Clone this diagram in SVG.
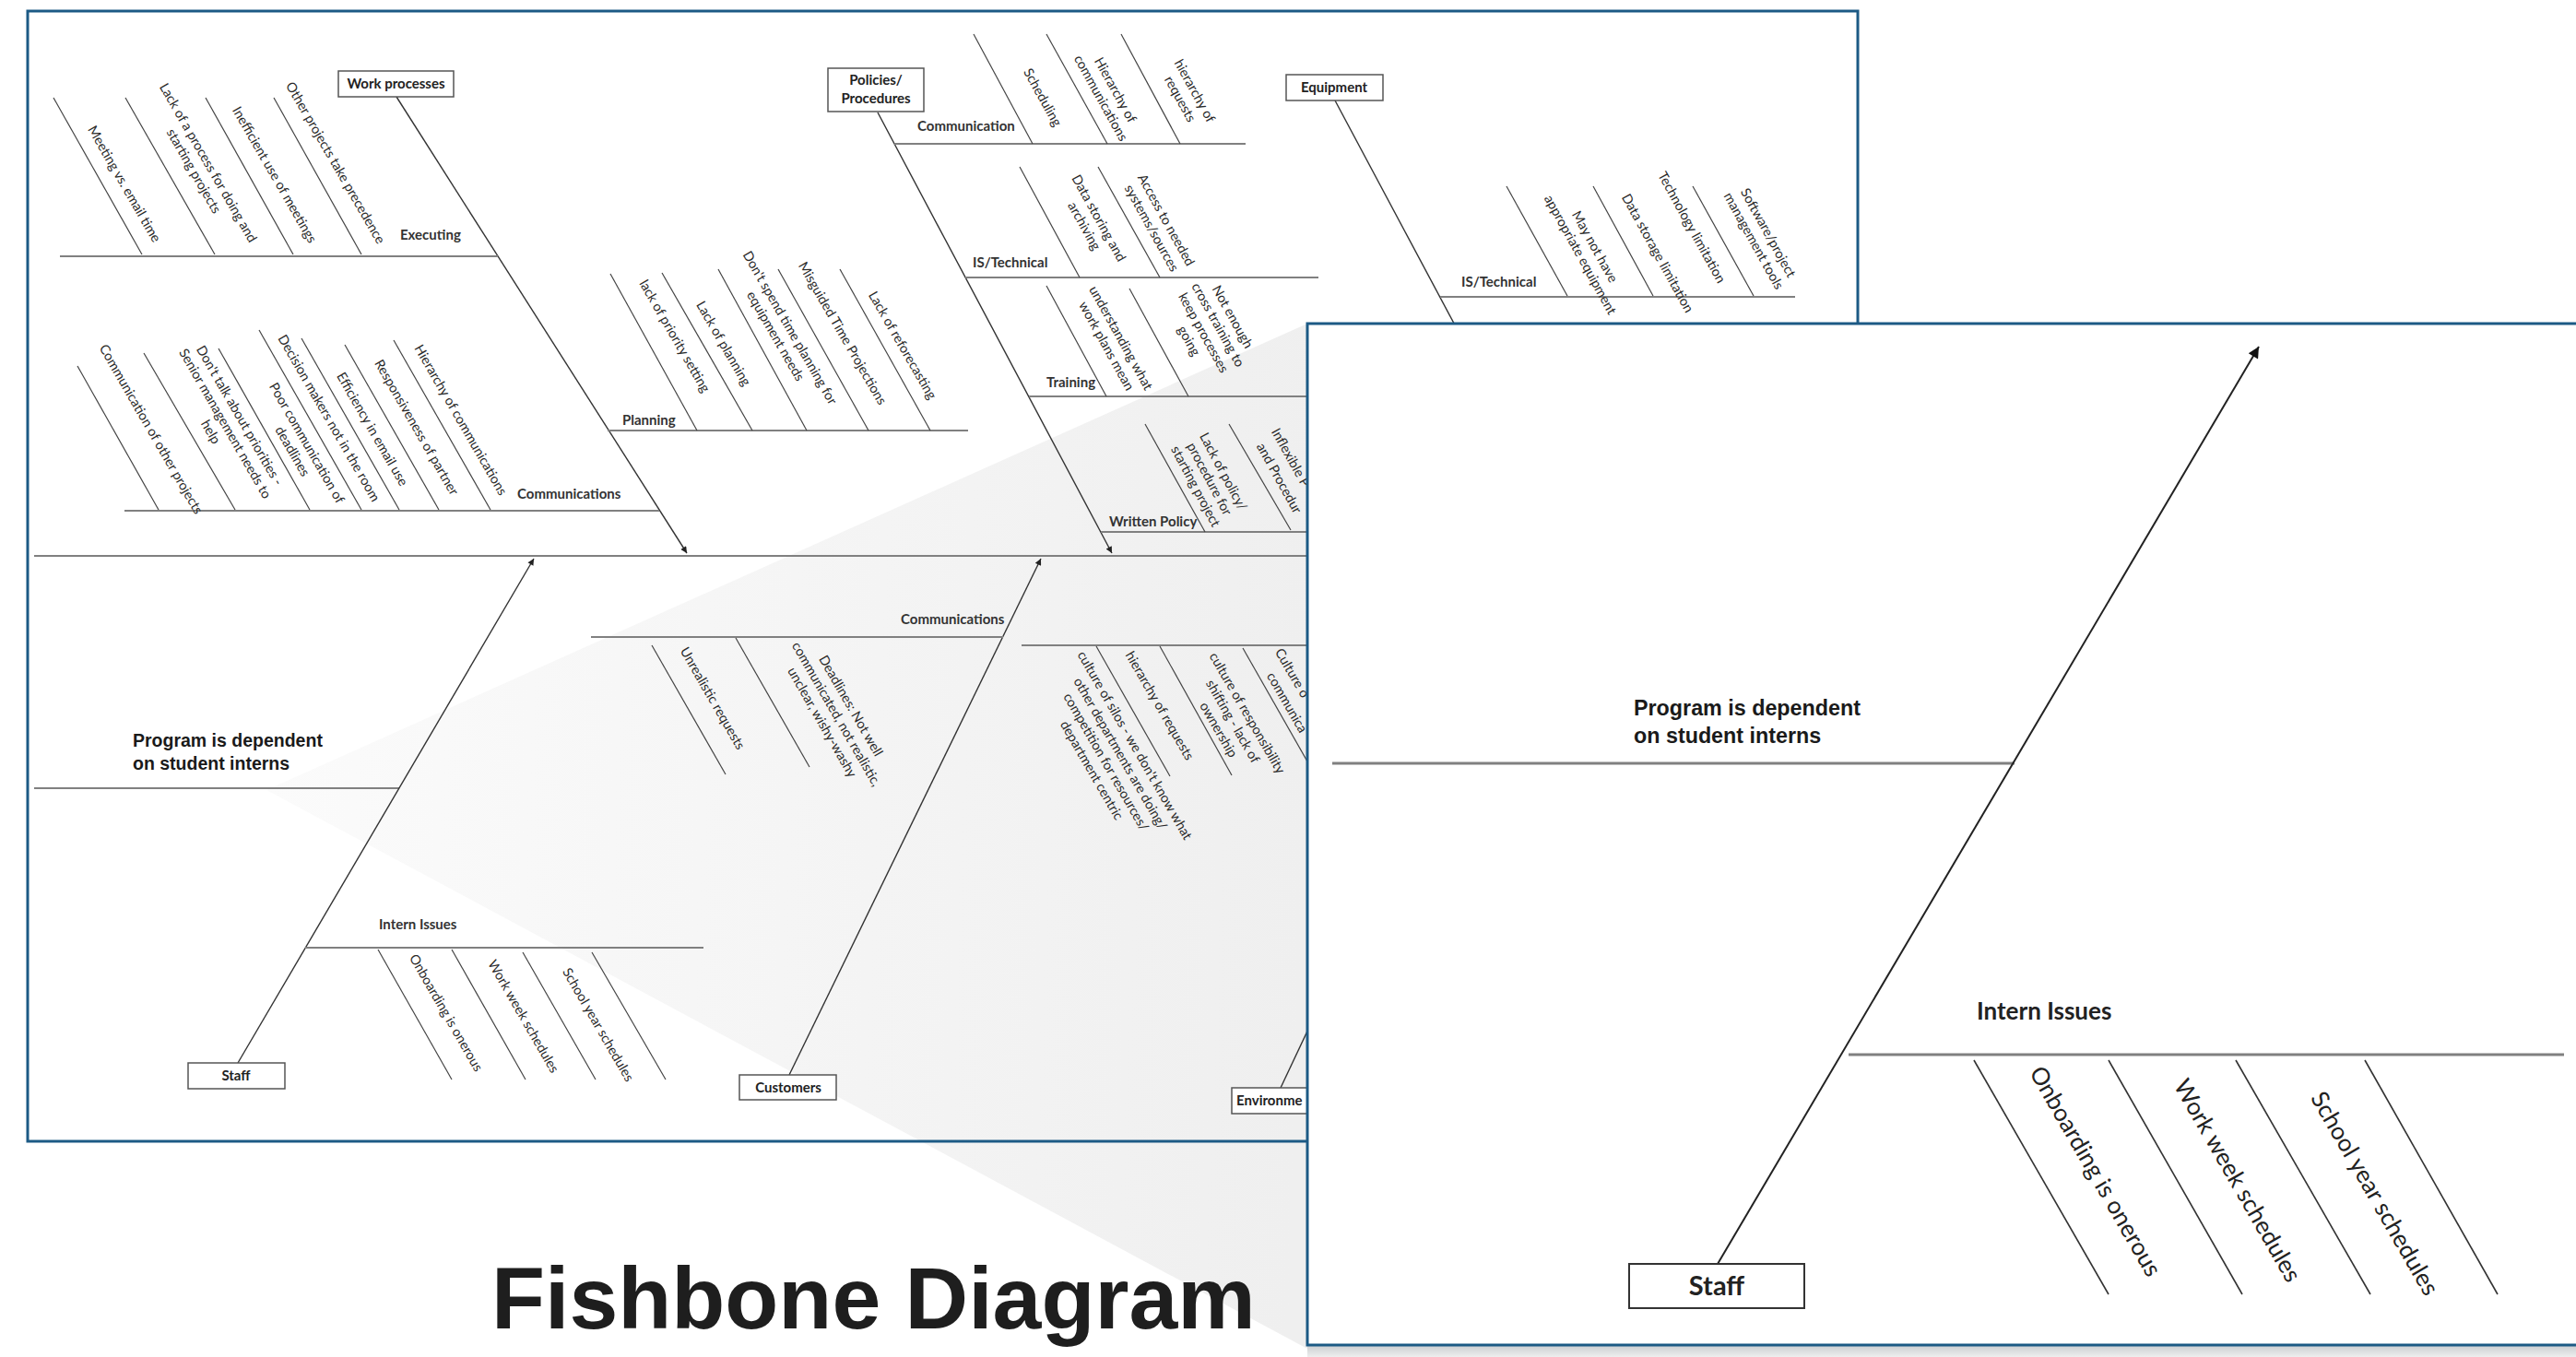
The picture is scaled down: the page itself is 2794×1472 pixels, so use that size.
<svg xmlns="http://www.w3.org/2000/svg" width="2794" height="1472" viewBox="0 0 2794 1472">
<defs>
<style>
.panel{fill:#fff;stroke:#1c5a85;stroke-width:3}
.bone{stroke:#333;stroke-width:1.4;fill:none}
.rib{stroke:#808080;stroke-width:2;fill:none}
.sub{stroke:#444;stroke-width:1.2;fill:none}
.t{font-family:Lato,"Liberation Sans",sans-serif;font-size:14.5px;fill:#2a2a2a;text-anchor:middle}
.ts{font-family:Lato,"Liberation Sans",sans-serif;font-size:14.5px;fill:#2a2a2a;text-anchor:start}
.lbl{font-family:Lato,"Liberation Sans",sans-serif;font-size:15px;font-weight:700;fill:#333}
.box{fill:#fff;stroke:#555;stroke-width:1.5}
.boxt{font-family:Lato,"Liberation Sans",sans-serif;font-size:15px;font-weight:700;fill:#222;text-anchor:middle}
.boxs{font-family:Lato,"Liberation Sans",sans-serif;font-size:15px;font-weight:700;fill:#222;text-anchor:start}
.fbone{stroke:#222;stroke-width:2;fill:none}
.frib{stroke:#808080;stroke-width:3;fill:none}
.fsub{stroke:#333;stroke-width:1.6;fill:none}
.ft{font-family:Lato,"Liberation Sans",sans-serif;font-size:26px;fill:#222;text-anchor:middle}
.prog{font-family:"Liberation Sans",Arial,sans-serif;font-weight:700;fill:#1a1a1a}
</style>
<marker id="ah" viewBox="0 0 10 10" refX="10" refY="5" markerWidth="9" markerHeight="7" markerUnits="userSpaceOnUse" orient="auto"><path d="M0,0 L10,5 L0,10 z" fill="#222"/></marker>
<marker id="ahF" viewBox="0 0 10 10" refX="10" refY="5" markerWidth="18" markerHeight="12" markerUnits="userSpaceOnUse" orient="auto"><path d="M0,0 L10,5 L0,10 z" fill="#111"/></marker>
<linearGradient id="wedge" gradientUnits="userSpaceOnUse" x1="289" y1="857" x2="1418" y2="900"><stop offset="0" stop-color="#fbfbfb"/><stop offset="1" stop-color="#efefef"/></linearGradient>
<linearGradient id="shadow" x1="0" y1="0" x2="0" y2="1"><stop offset="0" stop-color="#c9cdd0"/><stop offset="1" stop-color="#eeeeee"/></linearGradient>
<clipPath id="backclip"><polygon points="31,13 2014,13 2014,350 1417,350 1417,1237 31,1237"/></clipPath>
</defs>
<rect x="0" y="0" width="2794" height="1472" fill="#fff"/>

<!-- back panel -->
<rect id="back-panel-fill" x="30" y="12" width="1985" height="1226" fill="#fff"/>
<polygon id="zoom-wedge" points="289,857 1418,351 1418,1463" fill="url(#wedge)"/>

<g clip-path="url(#backclip)">
<g id="back-connectors">
  <path class="rib" d="M37,603 H2015"/>
  <path class="rib" d="M37,855 H433"/>
  <path class="bone" d="M430,105 L745,600" marker-end="url(#ah)"/>
  <path class="bone" d="M952,122 L1206,600" marker-end="url(#ah)"/>
  <path class="bone" d="M1448,109 L1710,600"/>
  <path class="bone" d="M258,1153 L579,606" marker-end="url(#ah)"/>
  <path class="bone" d="M856,1166 L1129,606" marker-end="url(#ah)"/>
  <path class="bone" d="M1389,1180 L1660,606"/>
  <path class="rib" d="M65,278 H540"/>
  <path class="rib" d="M135,554 H715"/>
  <path class="rib" d="M659,467 H1050"/>
  <path class="rib" d="M970,156 H1351"/>
  <path class="rib" d="M1047,301 H1430"/>
  <path class="rib" d="M1116,430 H1430"/>
  <path class="rib" d="M1194,577 H1430"/>
  <path class="rib" d="M1562,322 H1947"/>
  <path class="rib" d="M331,1028 H763"/>
  <path class="rib" d="M641,691 H1088"/>
  <path class="rib" d="M1108,700 H1430"/>
  <g class="sub">
    <path d="M58,106 L154,276"/><path d="M136,106 L233,276"/><path d="M223,106 L318,276"/><path d="M297,106 L392,276"/>
    <path d="M84,397 L172,553"/><path d="M156,383 L255,553"/><path d="M237,378 L336,553"/><path d="M281,358 L392,553"/><path d="M327,367 L433,553"/><path d="M374,374 L476,553"/><path d="M427,369 L532,553"/>
    <path d="M662,297 L756,467"/><path d="M718,296 L816,467"/><path d="M779,292 L875,467"/><path d="M844,292 L942,467"/><path d="M911,292 L1009,467"/>
    <path d="M1056,37 L1120,156"/><path d="M1135,37 L1201,156"/><path d="M1216,37 L1280,156"/>
    <path d="M1106,181 L1171,301"/><path d="M1191,181 L1258,301"/>
    <path d="M1135,310 L1200,430"/><path d="M1225,313 L1289,430"/>
    <path d="M1242,460 L1307,577"/><path d="M1333,460 L1400,575"/>
    <path d="M1634,202 L1700,321"/><path d="M1728,202 L1793,321"/><path d="M1836,202 L1902,321"/>
    <path d="M707,700 L787,840"/><path d="M798,692 L878,832"/>
    <path d="M1189,701 L1269,842"/><path d="M1258,701 L1336,841"/><path d="M1348,703 L1430,847"/>
    <path d="M410,1030 L490,1171"/><path d="M490,1030 L570,1171"/><path d="M567,1033 L646,1171"/><path d="M642,1033 L722,1171"/>
  </g>
</g>

<g id="node-work-processes">
  <rect class="box" x="367" y="77" width="125" height="28"/>
  <text class="boxt" x="429.5" y="96">Work processes</text>
</g>
<g id="node-policies">
  <rect class="box" x="898" y="74" width="104" height="47"/>
  <text class="boxt" x="950" y="92">Policies/</text>
  <text class="boxt" x="950" y="112">Procedures</text>
</g>
<g id="node-equipment">
  <rect class="box" x="1395" y="81" width="105" height="28"/>
  <text class="boxt" x="1447" y="100">Equipment</text>
</g>
<g id="node-staff-back">
  <rect class="box" x="204" y="1153" width="105" height="28"/>
  <text class="boxt" x="256" y="1172">Staff</text>
</g>
<g id="node-customers">
  <rect class="box" x="802" y="1166" width="105" height="27"/>
  <text class="boxt" x="855" y="1185">Customers</text>
</g>
<g id="node-environment">
  <rect class="box" x="1336" y="1180" width="120" height="28"/>
  <text class="boxs" x="1341" y="1199">Environme</text>
</g>

<g id="branch-labels">
  <text class="lbl" x="434" y="260">Executing</text>
  <text class="lbl" x="561" y="541">Communications</text>
  <text class="lbl" x="675" y="461">Planning</text>
  <text class="lbl" x="995" y="142">Communication</text>
  <text class="lbl" x="1055" y="290">IS/Technical</text>
  <text class="lbl" x="1135" y="420">Training</text>
  <text class="lbl" x="1203" y="571">Written Policy</text>
  <text class="lbl" x="1585" y="311">IS/Technical</text>
  <text class="lbl" x="977" y="677">Communications</text>
  <text class="lbl" x="411" y="1008">Intern Issues</text>
</g>

<g id="cause-texts">
  <text class="t" transform="translate(134 200) rotate(60)"><tspan x="0" y="4">Meeting vs. email time</tspan></text>
  <text class="t" transform="translate(225 177) rotate(60)"><tspan x="0" y="4">Lack of a process for doing and</tspan><tspan x="0" dy="18">starting projects</tspan></text>
  <text class="t" transform="translate(297 190) rotate(60)"><tspan x="0" y="4">Inefficient use of meetings</tspan></text>
  <text class="t" transform="translate(363 177) rotate(60)"><tspan x="0" y="4">Other projects take precedence</tspan></text>

  <text class="t" transform="translate(163 466) rotate(60)"><tspan x="0" y="4">Communication of other projects</tspan></text>
  <text class="t" transform="translate(259 451) rotate(60)"><tspan x="0" y="4">Don't talk about priorities -</tspan><tspan x="0" dy="18">Senior management needs to</tspan><tspan x="0" dy="18">help</tspan></text>
  <text class="t" transform="translate(332 481) rotate(60)"><tspan x="0" y="4">Poor communication of</tspan><tspan x="0" dy="18">deadlines</tspan></text>
  <text class="t" transform="translate(356 454) rotate(60)"><tspan x="0" y="4">Decision makers not in the room</tspan></text>
  <text class="t" transform="translate(403 466) rotate(60)"><tspan x="0" y="4">Efficiency in email use</tspan></text>
  <text class="t" transform="translate(451 464) rotate(60)"><tspan x="0" y="4">Responsiveness of partner</tspan></text>
  <text class="t" transform="translate(499 456) rotate(60)"><tspan x="0" y="4">Hierarchy of communications</tspan></text>

  <text class="t" transform="translate(731 365) rotate(60)"><tspan x="0" y="4">lack of priority setting</tspan></text>
  <text class="t" transform="translate(784 373) rotate(60)"><tspan x="0" y="4">Lack of planning</tspan></text>
  <text class="t" transform="translate(856 356) rotate(60)"><tspan x="0" y="4">Don't spend time planning for</tspan><tspan x="0" dy="18">equipment needs</tspan></text>
  <text class="t" transform="translate(913 362) rotate(60)"><tspan x="0" y="4">Misguided Time Projections</tspan></text>
  <text class="t" transform="translate(978 375) rotate(60)"><tspan x="0" y="4">Lack of reforecasting</tspan></text>

  <text class="t" transform="translate(1130 106) rotate(61)"><tspan x="0" y="4">Scheduling</tspan></text>
  <text class="t" transform="translate(1209 98) rotate(61)"><tspan x="0" y="4">Hierarchy of</tspan><tspan x="0" dy="18">communications</tspan></text>
  <text class="t" transform="translate(1295 99) rotate(61)"><tspan x="0" y="4">hierarchy of</tspan><tspan x="0" dy="18">requests</tspan></text>

  <text class="t" transform="translate(1191 237) rotate(61)"><tspan x="0" y="4">Data storing and</tspan><tspan x="0" dy="18">archiving</tspan></text>
  <text class="t" transform="translate(1264 239) rotate(61)"><tspan x="0" y="4">Access to needed</tspan><tspan x="0" dy="18">systems/sources</tspan></text>

  <text class="t" transform="translate(1215 367) rotate(61)"><tspan x="0" y="4">understanding what</tspan><tspan x="0" dy="18">work plans mean</tspan></text>
  <text class="t" transform="translate(1336 344) rotate(61)"><tspan x="0" y="4">Not enough</tspan><tspan x="0" dy="18">cross training to</tspan><tspan x="0" dy="18">keep processes</tspan><tspan x="0" dy="18">going</tspan></text>

  <text class="t" transform="translate(1326 512) rotate(62)"><tspan x="0" y="4">Lack of policy/</tspan><tspan x="0" dy="17">procedure for</tspan><tspan x="0" dy="17">starting project</tspan></text>
  <text class="ts" transform="translate(1382 466) rotate(61)"><tspan x="0" y="4">Inflexible P</tspan></text>
  <text class="ts" transform="translate(1366 482) rotate(61)"><tspan x="0" y="4">and Procedur</tspan></text>

  <text class="t" transform="translate(1729 268) rotate(61)"><tspan x="0" y="4">May not have</tspan><tspan x="0" dy="18">appropriate equipment</tspan></text>
  <text class="t" transform="translate(1797 275) rotate(61)"><tspan x="0" y="4">Data storage limitation</tspan></text>
  <text class="t" transform="translate(1834 247) rotate(61)"><tspan x="0" y="4">Technology limitation</tspan></text>
  <text class="t" transform="translate(1917 253) rotate(61)"><tspan x="0" y="4">Software/project</tspan><tspan x="0" dy="18">management tools</tspan></text>

  <text class="t" transform="translate(772 758) rotate(60)"><tspan x="0" y="4">Unrealistic requests</tspan></text>
  <text class="t" transform="translate(922 766) rotate(60)"><tspan x="0" y="4">Deadlines: Not well</tspan><tspan x="0" dy="18">communicated, not realistic,</tspan><tspan x="0" dy="18">unclear, wishy-washy</tspan></text>

  <text class="t" transform="translate(1230 809) rotate(60)"><tspan x="0" y="4">culture of silos - we don't know what</tspan><tspan x="0" dy="18">other departments are doing/</tspan><tspan x="0" dy="18">competition for resources/</tspan><tspan x="0" dy="18">department centric</tspan></text>
  <text class="t" transform="translate(1257 766) rotate(60)"><tspan x="0" y="4">hierarchy of requests</tspan></text>
  <text class="t" transform="translate(1352 774) rotate(60)"><tspan x="0" y="4">culture of responsibility</tspan><tspan x="0" dy="18">shifting - lack of</tspan><tspan x="0" dy="18">ownership</tspan></text>
  <text class="ts" transform="translate(1386 705) rotate(60)"><tspan x="0" y="4">Culture o</tspan></text>
  <text class="ts" transform="translate(1377 731) rotate(60)"><tspan x="0" y="4">communica</tspan></text>

  <text class="t" transform="translate(483 1099) rotate(60)"><tspan x="0" y="4">Onboarding is onerous</tspan></text>
  <text class="t" transform="translate(567 1103) rotate(60)"><tspan x="0" y="4">Work week schedules</tspan></text>
  <text class="t" transform="translate(648 1112) rotate(60)"><tspan x="0" y="4">School year schedules</tspan></text>
</g>

<g id="problem-back">
  <text class="prog" font-size="19.5" x="144" y="810">Program is dependent</text>
  <text class="prog" font-size="19.5" x="144" y="835">on student interns</text>
</g>
</g>
<rect id="back-panel" x="30" y="12" width="1985" height="1226" fill="none" stroke="#1c5a85" stroke-width="3"/>

<!-- title -->
<g id="title">
  <text x="533" y="1441" font-family="'Liberation Sans',Arial,sans-serif" font-weight="700" font-size="95" fill="#1e1e1e">Fishbone Diagram</text>
</g>

<!-- front panel -->
<rect id="front-shadow" x="1418" y="1459" width="1376" height="13" fill="url(#shadow)"/>
<rect id="front-panel" class="panel" x="1418" y="351" width="1400" height="1108"/>

<g id="front-connectors">
  <path class="frib" d="M1445,828 H2185"/>
  <path class="frib" d="M2005,1144 H2781"/>
  <path class="fbone" d="M1863,1371 L2450,376" marker-end="url(#ahF)"/>
  <g class="fsub">
    <path d="M2141,1150 L2287,1404"/>
    <path d="M2287,1150 L2432,1404"/>
    <path d="M2425,1150 L2571,1404"/>
    <path d="M2565,1150 L2709,1404"/>
  </g>
</g>

<g id="front-problem">
  <text class="prog" font-size="23.3" x="1772" y="776">Program is dependent</text>
  <text class="prog" font-size="23.3" x="1772" y="806">on student interns</text>
</g>
<g id="front-intern-issues">
  <text x="2144" y="1106" font-family="Lato,'Liberation Sans',sans-serif" font-weight="700" font-size="26" fill="#222">Intern Issues</text>
</g>
<g id="front-causes">
  <text class="ft" transform="translate(2272 1271) rotate(60)"><tspan x="0" y="8">Onboarding is onerous</tspan></text>
  <text class="ft" transform="translate(2426 1281) rotate(60)"><tspan x="0" y="8">Work week schedules</tspan></text>
  <text class="ft" transform="translate(2575 1295) rotate(60)"><tspan x="0" y="8">School year schedules</tspan></text>
</g>
<g id="node-staff-front">
  <rect x="1767" y="1371" width="190" height="48" fill="#fff" stroke="#333" stroke-width="2"/>
  <text x="1862" y="1405" font-family="Lato,'Liberation Sans',sans-serif" font-weight="700" font-size="29" fill="#222" text-anchor="middle">Staff</text>
</g>
</svg>
